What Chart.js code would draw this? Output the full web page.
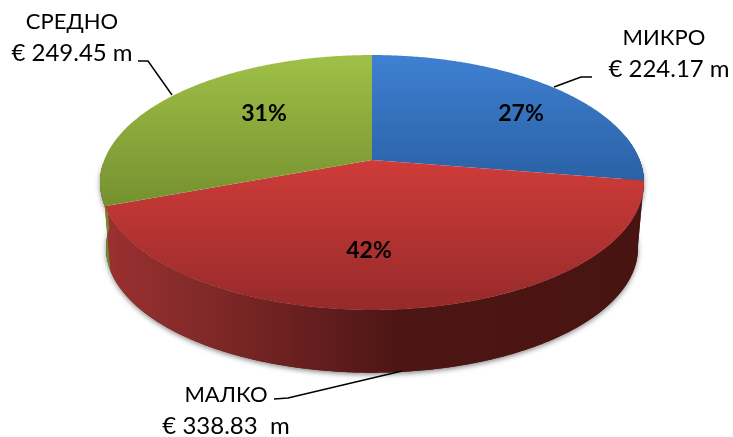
<!DOCTYPE html>
<html>
<head>
<meta charset="utf-8">
<script src="https://cdn.jsdelivr.net/npm/chart.js@4"></script>
<style>
  html, body { margin: 0; padding: 0; background: #fff; }
  canvas { display: block; }
</style>
</head>
<body>
<canvas id="pie" width="733" height="437"></canvas>
<script>
const categories = ['МИКРО', 'МАЛКО', 'СРЕДНО'];
const values = [224.17, 338.83, 249.45];
const amountLabels = ['€ 224.17 m', '€ 338.83  m', '€ 249.45 m'];
const pctLabels = ['27%', '42%', '31%'];

// vertical gradient of the top face, per slice
const FACE = [
  [[55, '#3f80d2'], [178, '#2a62a6']],
  [[160, '#cf3c39'], [310, '#962a2a']],
  [[55, '#9fc048'], [208, '#74902e']],
];
const WALL = [
  [[560, '#3a1210'], [645, '#1f4a80']],
  [[104, '#9c3030'], [190, '#852a2a'], [290, '#6c2020'], [400, '#4c1614'], [640, '#481412']],
  [[100, '#6f8a2c'], [110, '#6f8a2c']],
];

// perspective disc, fitted to the picture
const P = { cx: 372, cy: 160, a: 267.7, b: 123.5, k: 0.1765, depth: 66, shrink: 0.978 };

function project(t, low) {
  const w = 1 - P.k * Math.sin(t);
  const s = low ? P.shrink : 1;
  return {
    x: P.cx + s * P.a * Math.cos(t) / w,
    y: P.cy + (low ? P.depth : 0) + s * P.b * Math.sin(t) / w,
  };
}

function traceEdge(ctx, t0, t1, low) {
  const n = Math.ceil(Math.abs(t1 - t0) / 0.01);
  for (let i = 0; i <= n; i++) {
    const p = project(t0 + (t1 - t0) * i / n, low);
    ctx.lineTo(p.x, p.y);
  }
}

function linear(ctx, x0, y0, x1, y1, stops) {
  const g = ctx.createLinearGradient(x0, y0, x1, y1);
  const a = stops[0][0], b = stops[stops.length - 1][0];
  stops.forEach(s => g.addColorStop((s[0] - a) / (b - a), s[1]));
  return g;
}

const disc3d = {
  id: 'disc3d',
  beforeDatasetDraw(chart) {
    const ctx = chart.ctx;
    const arcs = chart.getDatasetMeta(0).data;
    ctx.save();

    // side wall: only the part facing the viewer
    ctx.save();
    ctx.shadowColor = 'rgba(90,90,90,0.7)';
    ctx.shadowBlur = 5;
    ctx.shadowOffsetY = 2;
    ctx.beginPath();
    traceEdge(ctx, -0.02, Math.PI - 0.02, true);
    traceEdge(ctx, Math.PI - 0.02, -0.02, false);
    ctx.closePath();
    ctx.fillStyle = '#481412';
    ctx.fill();
    ctx.restore();

    arcs.forEach((arc, i) => {
      const from = Math.max(arc.startAngle, -0.2);
      const to = Math.min(arc.endAngle, Math.PI - 0.02);
      if (to <= from) return;
      ctx.beginPath();
      traceEdge(ctx, from, to, false);
      traceEdge(ctx, to, from, true);
      ctx.closePath();
      const st = WALL[i];
      ctx.fillStyle = linear(ctx, st[0][0], 0, st[st.length - 1][0], 0, st);
      ctx.fill();
    });

    // top face
    arcs.forEach((arc, i) => {
      ctx.beginPath();
      ctx.moveTo(P.cx, P.cy);
      traceEdge(ctx, arc.startAngle, arc.endAngle, false);
      ctx.closePath();
      const st = FACE[i];
      ctx.fillStyle = linear(ctx, 0, st[0][0], 0, st[st.length - 1][0], st);
      ctx.fill();
    });
    ctx.restore();
    return false;
  },
  afterDraw(chart) {
    const ctx = chart.ctx;
    ctx.save();

    // leader lines
    ctx.strokeStyle = '#000';
    ctx.lineWidth = 1.5;
    [
      [[138, 61], [148, 61], [172, 95]],
      [[554, 87], [581, 77], [592, 77]],
      [[274, 399], [288, 398], [402, 371]],
    ].forEach(line => {
      ctx.beginPath();
      line.forEach(p => ctx.lineTo(p[0], p[1]));
      ctx.stroke();
    });

    ctx.fillStyle = '#000';
    ctx.textAlign = 'center';
    ctx.textBaseline = 'alphabetic';
    ctx.font = 'bold 23px Lato, "Open Sans", sans-serif';
    ctx.fillText(pctLabels[0], 521, 121);
    ctx.fillText(pctLabels[1], 369, 258);
    ctx.fillText(pctLabels[2], 264, 121);

    const names = '22px Lato, "Open Sans", sans-serif';
    const amounts = '24px Lato, "Open Sans", sans-serif';
    [[0, 664, 45, 669, 77], [1, 226, 402, 226, 434], [2, 72, 29, 72, 61]].forEach(r => {
      ctx.font = names;
      ctx.fillText(categories[r[0]], r[1], r[2]);
      ctx.font = amounts;
      ctx.fillText(amountLabels[r[0]], r[3], r[4]);
    });
    ctx.restore();
  }
};

new Chart(document.getElementById('pie'), {
  type: 'pie',
  data: {
    labels: categories,
    datasets: [{ data: values, backgroundColor: ['#3a75c0', '#c23a38', '#8cab3c'], borderWidth: 0 }]
  },
  options: {
    responsive: false,
    animation: false,
    plugins: { legend: { display: false }, tooltip: { enabled: false } }
  },
  plugins: [disc3d]
});
</script>
</body>
</html>
